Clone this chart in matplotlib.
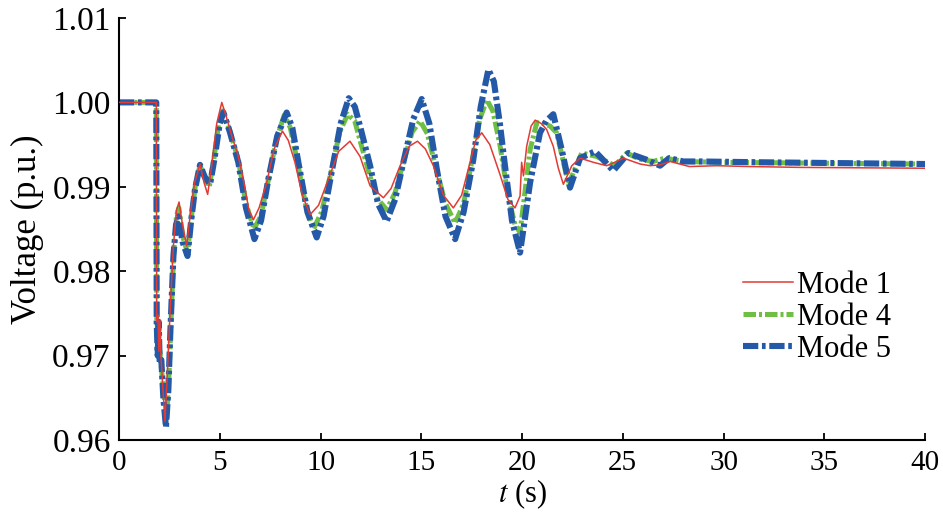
import matplotlib
matplotlib.use("Agg")
import matplotlib.pyplot as plt

# Mode 1 (red, thin solid)
t_m1 = [0, 1.85, 1.87, 1.93, 1.98, 2.03, 2.08, 2.18, 2.28, 2.40, 2.55, 2.70, 2.85, 2.98,
        3.15, 3.36, 3.55, 3.75, 4.02, 4.22, 4.40, 4.60, 4.85, 5.10, 5.30, 5.60, 5.92,
        6.20, 6.45, 6.67, 6.95, 7.33, 7.70, 8.11, 8.40, 8.73, 9.10, 9.48, 9.90, 10.39,
        10.90, 11.46, 11.96, 12.46, 13.12, 13.50, 13.95, 14.40, 14.81, 15.20, 15.60,
        16.10, 16.59, 17.00, 17.42, 17.70, 18.00, 18.40, 18.90, 19.30, 19.65, 19.90,
        19.98, 20.07, 20.23, 20.45, 20.65, 20.95, 21.22, 21.55, 21.80, 22.05, 22.47,
        22.88, 23.54, 24.20, 24.60, 25.03, 25.50, 25.86, 26.35, 26.85, 27.35, 28.30,
        29.66, 31.30, 33.80, 40.00]
v_m1 = [1.0000, 1.0000, 0.9740, 0.9748, 0.9705, 0.9742, 0.9700, 0.9660, 0.9622, 0.9680,
        0.9760, 0.9830, 0.9872, 0.9882, 0.9855, 0.9830, 0.9870, 0.9905, 0.9927, 0.9905,
        0.9891, 0.9925, 0.9975, 1.0000, 0.9985, 0.9960, 0.9936, 0.9905, 0.9872, 0.9861,
        0.9875, 0.9905, 0.9945, 0.9966, 0.9955, 0.9929, 0.9890, 0.9867, 0.9878, 0.9909,
        0.9942, 0.9954, 0.9936, 0.9901, 0.9887, 0.9898, 0.9925, 0.9948, 0.9954, 0.9945,
        0.9925, 0.9890, 0.9875, 0.9890, 0.9929, 0.9955, 0.9964, 0.9950, 0.9915, 0.9885,
        0.9875, 0.9889, 0.9929, 0.9913, 0.9948, 0.9972, 0.9979, 0.9975, 0.9968, 0.9948,
        0.9922, 0.9903, 0.9925, 0.9934, 0.9929, 0.9925, 0.9929, 0.9934, 0.9930, 0.9927,
        0.9925, 0.9926, 0.9930, 0.9924, 0.9925, 0.9924, 0.9923, 0.9922]

# Mode 4 (green, dash-dot)
t_m4 = [0, 1.85, 1.87, 1.95, 2.05, 2.20, 2.35, 2.47, 2.58, 2.72, 2.85, 2.97, 3.18, 3.40,
        3.58, 3.78, 4.02, 4.25, 4.48, 4.72, 4.95, 5.15, 5.45, 5.92, 6.30, 6.70, 7.05,
        7.40, 7.80, 8.20, 8.50, 8.85, 9.25, 9.65, 10.05, 10.50, 10.95, 11.35, 11.70,
        11.96, 12.46, 12.85, 13.28, 13.70, 14.10, 14.55, 14.94, 15.30, 15.70, 16.20,
        16.68, 17.10, 17.55, 17.90, 18.25, 18.55, 18.90, 19.30, 19.65, 19.90, 20.10,
        20.40, 20.73, 21.05, 21.39, 21.72, 22.00, 22.30, 22.96, 23.70, 24.60, 25.20,
        25.80, 26.50, 27.10, 28.00, 30.00, 40.00]
v_m4 = [1.0000, 1.0000, 0.9745, 0.9720, 0.9700, 0.9660, 0.9625, 0.9670, 0.9740, 0.9825,
        0.9865, 0.9875, 0.9840, 0.9822, 0.9862, 0.9900, 0.9926, 0.9910, 0.9900, 0.9935,
        0.9975, 0.9990, 0.9970, 0.9932, 0.9880, 0.9850, 0.9866, 0.9907, 0.9955, 0.9985,
        0.9970, 0.9930, 0.9880, 0.9850, 0.9870, 0.9915, 0.9965, 0.9986, 0.9978, 0.9955,
        0.9912, 0.9885, 0.9873, 0.9893, 0.9928, 0.9965, 0.9978, 0.9963, 0.9925, 0.9880,
        0.9857, 0.9880, 0.9935, 0.9980, 1.0003, 0.9990, 0.9950, 0.9890, 0.9855, 0.9846,
        0.9885, 0.9944, 0.9976, 0.9975, 0.9972, 0.9964, 0.9935, 0.9903, 0.9940, 0.9936,
        0.9925, 0.9940, 0.9933, 0.9930, 0.9934, 0.9930, 0.9929, 0.9927]

# Mode 5 (blue, dash-dot)
t_m5 = [0, 1.85, 1.87, 1.92, 1.97, 2.02, 2.10, 2.20, 2.33, 2.45, 2.55, 2.70, 2.83, 2.95,
        3.15, 3.40, 3.58, 3.77, 4.02, 4.25, 4.52, 4.75, 5.00, 5.18, 5.50, 5.92, 6.30,
        6.72, 7.05, 7.41, 7.85, 8.32, 8.60, 8.90, 9.35, 9.81, 10.15, 10.55, 11.00, 11.40,
        11.70, 11.96, 12.46, 12.85, 13.28, 13.70, 14.11, 14.60, 15.02, 15.40, 15.77,
        16.20, 16.68, 17.10, 17.58, 17.95, 18.33, 18.60, 18.90, 19.10, 19.50, 19.90,
        20.10, 20.40, 20.89, 21.20, 21.55, 21.97, 22.38, 22.88, 23.62, 24.10, 24.53,
        25.28, 25.60, 26.19, 26.85, 27.30, 28.00, 28.83, 32.10, 40.00]
v_m5 = [1.0000, 1.0000, 0.9740, 0.9700, 0.9740, 0.9690, 0.9695, 0.9650, 0.9615, 0.9660,
        0.9730, 0.9818, 0.9855, 0.9865, 0.9835, 0.9818, 0.9860, 0.9897, 0.9926, 0.9912,
        0.9903, 0.9935, 0.9975, 0.9988, 0.9965, 0.9929, 0.9875, 0.9838, 0.9860, 0.9909,
        0.9960, 0.9988, 0.9970, 0.9929, 0.9870, 0.9840, 0.9865, 0.9917, 0.9975, 1.0005,
        0.9995, 0.9972, 0.9925, 0.9880, 0.9859, 0.9885, 0.9929, 0.9980, 1.0004, 0.9975,
        0.9921, 0.9865, 0.9838, 0.9870, 0.9932, 0.9995, 1.0039, 1.0025, 0.9975, 0.9935,
        0.9860, 0.9822, 0.9855, 0.9905, 0.9964, 0.9978, 0.9986, 0.9944, 0.9899, 0.9934,
        0.9942, 0.9930, 0.9919, 0.9940, 0.9937, 0.9932, 0.9925, 0.9934, 0.9930, 0.9930,
        0.9929, 0.9927]

x_ticks = [0, 5, 10, 15, 20, 25, 30, 35, 40]
y_ticks = [0.96, 0.97, 0.98, 0.99, 1.00, 1.01]

plt.rcParams['font.family'] = ['Liberation Serif', 'DejaVu Serif']
plt.rcParams['mathtext.fontset'] = 'stix'

fig = plt.figure(figsize=(9.43, 5.2), dpi=100)
ax = fig.add_axes([0.1262, 0.1538, 0.8548, 0.8116])

ax.plot(t_m1, v_m1, color='#e23a35', lw=1.1, label='Mode 1', zorder=3)
ax.plot(t_m4, v_m4, color='#6fbf44', lw=3.6, dashes=(2.5, 0.6, 0.6, 0.6),
        label='Mode 4', zorder=2)
ax.plot(t_m5, v_m5, color='#2459a8', lw=4.4, dashes=(2.5, 0.6, 0.6, 0.6),
        label='Mode 5', zorder=2.5)

ax.set_xlim(0, 40)
ax.set_ylim(0.96, 1.01)
ax.set_xticks(x_ticks)
ax.set_yticks(y_ticks)
ax.set_yticklabels(['%.2f' % y for y in y_ticks])

ax.spines['top'].set_visible(False)
ax.spines['right'].set_visible(False)
ax.spines['left'].set_linewidth(1.5)
ax.spines['bottom'].set_linewidth(1.5)
ax.tick_params(direction='in', length=5, width=1.3)
ax.tick_params(axis='y', labelsize=24, pad=6)
ax.tick_params(axis='x', labelsize=21, pad=7)

ax.set_xlabel('$t$ (s)', fontsize=22, labelpad=1)
ax.set_ylabel('Voltage (p.u.)', fontsize=25, labelpad=6)

ax.legend(loc='center left', bbox_to_anchor=(0.774, 0.29), frameon=False,
          fontsize=22, handlelength=1.65, handletextpad=0.12, labelspacing=0.1,
          borderpad=0, borderaxespad=0)

fig.savefig('out.png', dpi=100)
